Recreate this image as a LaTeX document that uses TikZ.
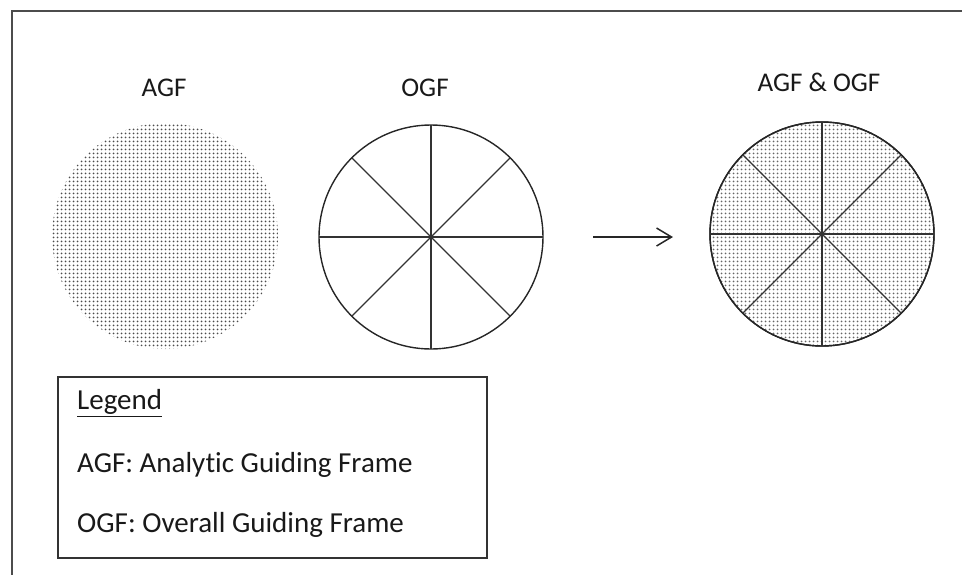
\documentclass[tikz,border=0pt]{standalone}
\usepackage{fontspec}
\setmainfont{Carlito}[Ligatures=NoCommon]
\usetikzlibrary{patterns.meta,arrows.meta}
\tikzdeclarepattern{name=fdots, type=uncolored, bounding box={(0,0) and (4pt,4pt)}, tile size={(4pt,4pt)}, code={\fill (2pt,2pt) circle (1.2pt);}}
\begin{document}
\begin{tikzpicture}[x=1pt,y=-1pt,
  lbl/.style={font=\fontsize{27}{32}\selectfont, inner sep=0pt, text=black!90},
  leglbl/.style={font=\fontsize{29}{33}\selectfont, inner sep=0pt, text=black!90, anchor=west},
  wheel/.style={circle, draw=black!85, line width=1.4pt, minimum size=224pt, inner sep=0pt, outer sep=0pt},
  spoke/.style={draw=black!80, line width=1.3pt},
  frame/.style={draw=black!70, line width=2pt}]
\useasboundingbox (0,0) rectangle (962,574);
% outer frame
\coordinate (f1) at (12,580);
\coordinate (f2) at (12,11);
\coordinate (f3) at (970,11);
\draw[frame] (f1) -- (f2) -- (f3);
% titles
\node[lbl] (t1) at (164,88) {AGF};
\node[lbl] (t2) at (425,88) {OGF};
\node[lbl] (t3) at (819,82) {AGF \& OGF};
% AGF circle
\node[circle, minimum size=226pt, inner sep=0pt, pattern={fdots}, pattern color=black!70] (agf) at (165,236) {};
% OGF circle
\node[wheel] (ogf) at (431,237) {};
\foreach \a in {0,45,90,135} {
  \draw[spoke] (ogf.\a) -- (ogf.\a+180);
}
% combined circle
\node[wheel, pattern={fdots}, pattern color=black!60] (both) at (822,234) {};
\node[wheel] (both2) at (822,234) {};
\foreach \a in {0,45,90,135} {
  \draw[spoke] (both.\a) -- (both.\a+180);
}
% arrow
\coordinate (a1) at (593,237);
\coordinate (a2) at (673,237);
\draw[line width=1.5pt, black!85, -{Straight Barb[length=15pt,width=18pt,line width=1.5pt]}] (a1) -- (a2);
% legend
\node[draw=black!80, line width=1.5pt, minimum width=429pt, minimum height=181pt, inner sep=0pt] (leg) at (272.5,467.5) {};
\node[leglbl] (lg1) at (77,403) {\underline{Legend}};
\node[leglbl] (lg2) at (77,465) {AGF: Analytic Guiding Frame};
\node[leglbl] (lg3) at (77,525) {OGF: Overall Guiding Frame};
\end{tikzpicture}
\end{document}
